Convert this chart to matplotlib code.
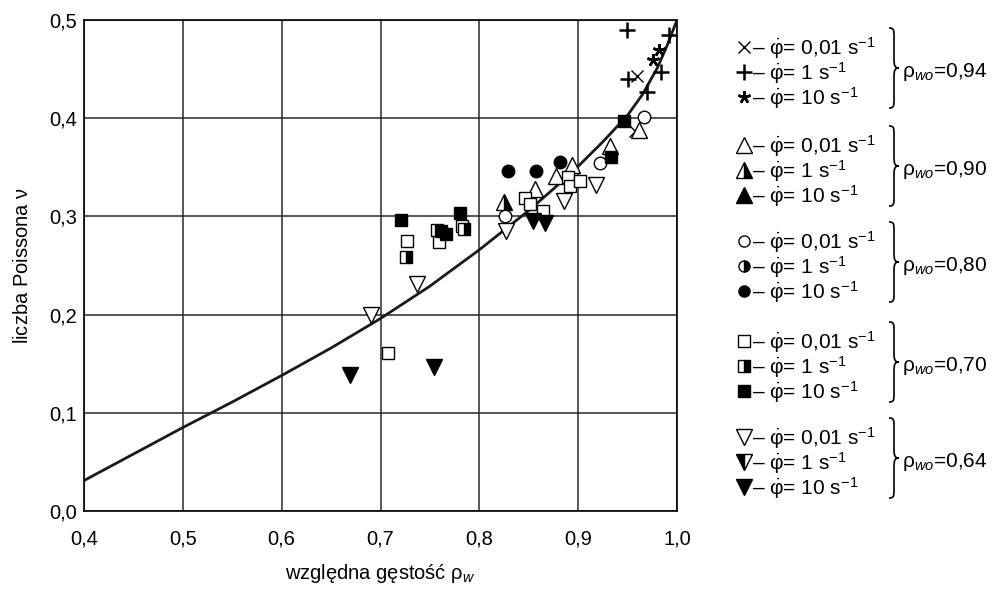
import numpy as np
import matplotlib.pyplot as plt
from matplotlib.path import Path
from matplotlib.patches import PathPatch

plt.rcParams['font.family'] = ['Liberation Sans', 'DejaVu Sans']
plt.rcParams['mathtext.fontset'] = 'custom'
plt.rcParams['mathtext.rm'] = 'Liberation Sans'
plt.rcParams['mathtext.it'] = 'Liberation Sans:italic'
plt.rcParams['mathtext.bf'] = 'Liberation Sans:bold'

# fitted curve
curve_x = [0.40, 0.45, 0.50, 0.55, 0.60, 0.65, 0.70, 0.75, 0.80, 0.85, 0.875, 0.90, 0.925, 0.95, 0.965, 0.98, 0.99, 1.0]
curve_y = [0.031, 0.058, 0.085, 0.111, 0.138, 0.166, 0.196, 0.229, 0.266, 0.306, 0.328, 0.351, 0.376, 0.403, 0.424, 0.451, 0.474, 0.500]

# rho_wo = 0.94
x94_001 = [0.960, 0.958]
y94_001 = [0.443, 0.387]
x94_1 = [0.949, 0.950, 0.970, 0.984, 0.992]
y94_1 = [0.490, 0.440, 0.427, 0.447, 0.485]
x94_10 = [0.976, 0.982]
y94_10 = [0.459, 0.469]

# rho_wo = 0.90
x90_001 = [0.856, 0.878, 0.894, 0.932, 0.962]
y90_001 = [0.328, 0.341, 0.352, 0.372, 0.388]
x90_1 = [0.825]
y90_1 = [0.315]

# rho_wo = 0.80
x80_001 = [0.826, 0.922, 0.967]
y80_001 = [0.300, 0.354, 0.401]
x80_10 = [0.829, 0.857, 0.882]
y80_10 = [0.346, 0.346, 0.355]

# rho_wo = 0.70
x70_001 = [0.727, 0.708, 0.757, 0.759, 0.782, 0.846, 0.851, 0.864, 0.890, 0.892, 0.902]
y70_001 = [0.275, 0.161, 0.286, 0.274, 0.290, 0.319, 0.313, 0.306, 0.340, 0.331, 0.336]
x70_1 = [0.726, 0.784]
y70_1 = [0.259, 0.287]
x70_10 = [0.721, 0.780, 0.761, 0.766, 0.946, 0.933]
y70_10 = [0.296, 0.303, 0.285, 0.282, 0.397, 0.360]

# rho_wo = 0.64
x64_001 = [0.690, 0.737, 0.827, 0.886, 0.918]
y64_001 = [0.200, 0.231, 0.285, 0.316, 0.332]
x64_10 = [0.669, 0.754, 0.854, 0.866]
y64_10 = [0.139, 0.147, 0.295, 0.293]

xticks = [0.4, 0.5, 0.6, 0.7, 0.8, 0.9, 1.0]
yticks = [0.0, 0.1, 0.2, 0.3, 0.4, 0.5]
group_labels = ['0,94', '0,90', '0,80', '0,70', '0,64']
rate_labels = ['0,01', '1', '10']

fig = plt.figure(figsize=(9.93, 5.92), dpi=100)
ax = fig.add_axes([84/993, 1-511/592, 593/993, 491/592])

ax.plot(curve_x, curve_y, color='#1a1a1a', lw=2.0, zorder=2, solid_joinstyle='round')

k = dict(color='black', ls='none', zorder=3)
ax.plot(x94_001, y94_001, marker='x', ms=9, mew=1.0, **k)
ax.plot(x94_1, y94_1, marker='+', ms=11, mew=1.8, **k)
ax.plot(x94_10, y94_10, marker=(5, 2, 0), ms=9, mew=1.8, **k)
ax.plot(x90_001, y90_001, marker='^', ms=11, mfc='white', mew=1.0, **k)
ax.plot(x90_1, y90_1, marker='^', ms=11, fillstyle='right', mfc='black', markerfacecoloralt='white', mew=1.0, **k)
ax.plot(x80_001, y80_001, marker='o', ms=9, mfc='white', mew=1.0, **k)
ax.plot(x80_10, y80_10, marker='o', ms=9, mfc='black', mew=1.0, **k)
ax.plot(x70_001, y70_001, marker='s', ms=9, mfc='white', mew=1.0, **k)
ax.plot(x70_1, y70_1, marker='s', ms=9, fillstyle='right', mfc='black', markerfacecoloralt='white', mew=1.0, **k)
ax.plot(x70_10, y70_10, marker='s', ms=9, mfc='black', mew=1.0, **k)
ax.plot(x64_001, y64_001, marker='v', ms=11, mfc='white', mew=1.0, **k)
ax.plot(x64_10, y64_10, marker='v', ms=11, mfc='black', mew=1.0, **k)

ax.set_xlim(0.4, 1.0)
ax.set_ylim(0.0, 0.5)
ax.set_xticks(xticks)
ax.set_yticks(yticks)
ax.set_xticklabels([f'{v:.1f}'.replace('.', ',') for v in xticks], fontsize=14.5)
ax.set_yticklabels([f'{v:.1f}'.replace('.', ',') for v in yticks], fontsize=14.5)
ax.tick_params(axis='x', length=0, pad=13)
ax.tick_params(axis='y', length=0, pad=5)
ax.grid(True, color='#2a2a2a', lw=1.1)
ax.set_axisbelow(True)
for s in ax.spines.values():
    s.set_color('black')
    s.set_linewidth(1.2)
ax.set_xlabel(r'względna gęstość $\mathrm{\rho}_{w}$', fontsize=14.5, va='center')
ax.set_ylabel(r'liczba Poissona $\mathrm{\nu}$', fontsize=14.5, va='center')
ax.xaxis.set_label_coords(0.5, -0.128)
ax.yaxis.set_label_coords(-0.103, 0.5)

# legend drawn in pixel coordinates
lg = fig.add_axes([0, 0, 1, 1], zorder=5)
lg.set_xlim(0, 993)
lg.set_ylim(592, 0)
lg.axis('off')

group_markers = [
    [dict(marker='x', ms=9, mew=1.0, color='black'),
     dict(marker='+', ms=11, mew=1.8, color='black'),
     dict(marker=(5, 2, 0), ms=9, mew=1.8, color='black')],
    [dict(marker='^', ms=11, mfc='white', mec='black', mew=1.0),
     dict(marker='^', ms=11, fillstyle='right', mfc='black', markerfacecoloralt='white', mec='black', mew=1.0),
     dict(marker='^', ms=11, mfc='black', mec='black', mew=1.0)],
    [dict(marker='o', ms=8, mfc='white', mec='black', mew=1.0),
     dict(marker='o', ms=8, fillstyle='right', mfc='black', markerfacecoloralt='white', mec='black', mew=1.0),
     dict(marker='o', ms=8, mfc='black', mec='black', mew=1.0)],
    [dict(marker='s', ms=8, mfc='white', mec='black', mew=1.0),
     dict(marker='s', ms=8, fillstyle='right', mfc='black', markerfacecoloralt='white', mec='black', mew=1.0),
     dict(marker='s', ms=8, mfc='black', mec='black', mew=1.0)],
    [dict(marker='v', ms=11, mfc='white', mec='black', mew=1.0),
     dict(marker='v', ms=11, fillstyle='left', mfc='black', markerfacecoloralt='white', mec='black', mew=1.0),
     dict(marker='v', ms=11, mfc='black', mec='black', mew=1.0)],
]
group_y = [47, 145, 241, 341, 437]
row_gap = 25


def brace(x, y0, y1, w):
    ym = (y0 + y1) / 2
    q = 9
    verts = [(x, y0),
             (x + w, y0), (x + w, y0 + 2), (x + w, y0 + q),
             (x + w, ym - q),
             (x + w, ym - 2), (x + w * 1.2, ym), (x + 2 * w, ym),
             (x + w * 1.2, ym), (x + w, ym + 2), (x + w, ym + q),
             (x + w, y1 - q),
             (x + w, y1 - 2), (x + w, y1), (x, y1)]
    codes = [Path.MOVETO,
             Path.CURVE4, Path.CURVE4, Path.CURVE4,
             Path.LINETO,
             Path.CURVE4, Path.CURVE4, Path.CURVE4,
             Path.CURVE4, Path.CURVE4, Path.CURVE4,
             Path.LINETO,
             Path.CURVE4, Path.CURVE4, Path.CURVE4]
    return PathPatch(Path(verts, codes), fill=False, lw=1.2, color='black')


for g in range(5):
    y0 = group_y[g]
    for r in range(3):
        yy = y0 + r * row_gap
        lg.plot([744], [yy], ls='none', **group_markers[g][r])
        lg.text(752, yy + 1, r'– $\dot{\mathrm{\varphi}}$= ' + rate_labels[r] + r' s$^{-1}$',
                fontsize=15, va='center', ha='left')
    lg.add_patch(brace(889, y0 - 19, y0 + 2 * row_gap + 11, 5))
    lg.text(902, y0 + row_gap, r'$\mathrm{\rho}_{\mathit{wo}}$=' + group_labels[g],
            fontsize=15, va='center', ha='left')

fig.savefig('out.png', dpi=100)
